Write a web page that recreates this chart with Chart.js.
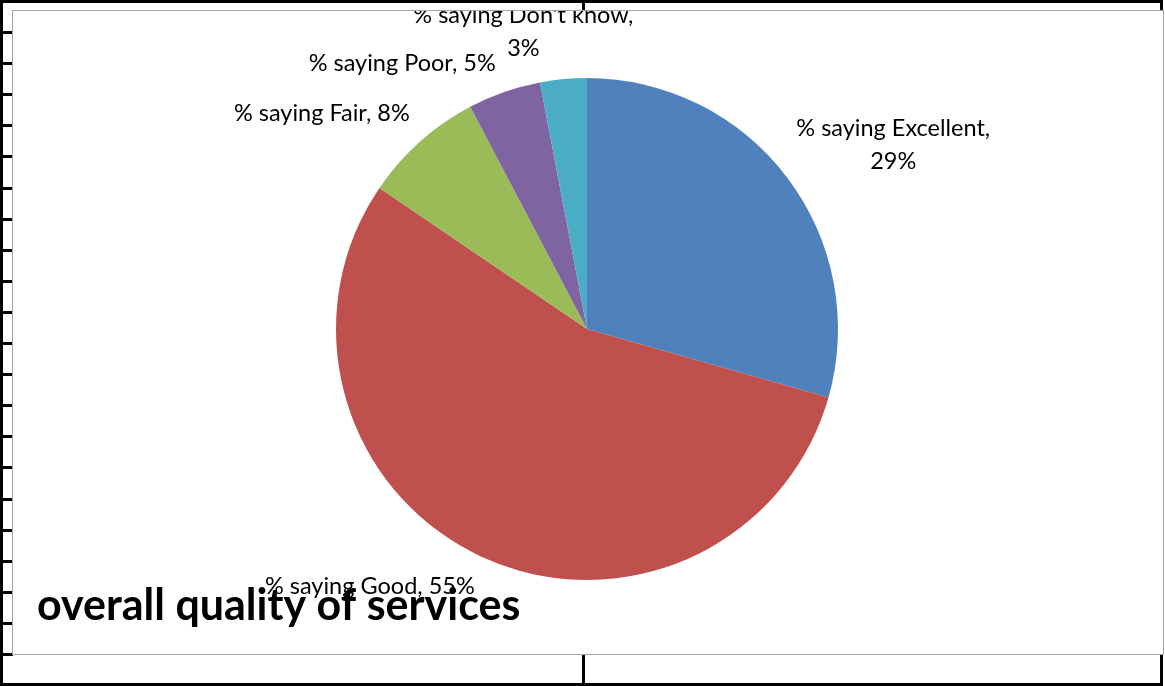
<!DOCTYPE html>
<html>
<head>
<meta charset="utf-8">
<title>overall quality of services</title>
<script src="https://cdn.jsdelivr.net/npm/chart.js@4"></script>
<style>
  html, body { margin: 0; padding: 0; background: #fff; }
  body { width: 1165px; height: 686px; position: relative; overflow: hidden; }
  .ln { position: absolute; background: #000; }
  #box { position: absolute; left: 12px; top: 10px; width: 1150px; height: 643px;
         border: 1px solid #a6a6a6; background: #fff; }
  #box canvas { display: block; }
</style>
</head>
<body>
<!-- sheet grid behind the chart object -->
<div class="ln" style="left:0;top:0;width:1163px;height:3px"></div>
<div class="ln" style="left:0;top:0;width:3px;height:686px"></div>
<div class="ln" style="left:1160px;top:0;width:3px;height:686px"></div>
<div class="ln" style="left:0;top:683px;width:1163px;height:3px"></div>
<div class="ln" style="left:0;top:653px;width:1163px;height:2px"></div>
<div class="ln" style="left:582px;top:0;width:3px;height:12px"></div>
<div class="ln" style="left:582px;top:653px;width:3px;height:33px"></div>
<div id="ticks"></div>

<div id="box"><canvas id="pie" width="1150" height="643"></canvas></div>

<script>
(function () {
  var CATEGORIES = ['% saying Excellent', '% saying Good', '% saying Fair', '% saying Poor', "% saying Don't know"];
  var VALUES = [29.4, 55.1, 7.8, 4.7, 3.0];
  var COLORS = ['#4f81bd', '#c0504d', '#9bbb59', '#8064a2', '#4bacc6'];
  var TITLE = 'overall quality of services';

  // label block centre relative to the slice's outer mid point (excel "best fit" look)
  var LABEL_DX = [106, -111, -98, -102, -40];
  var LABEL_DY = [-33, 30, -28, -29, -47];
  var WRAP = [true, false, false, false, true];

  // row lines of the sheet, only their stubs show left of the chart
  var ticks = document.getElementById('ticks');
  for (var i = 0; i <= 20; i++) {
    var t = document.createElement('div');
    t.className = 'ln';
    t.style.cssText = 'left:0;width:13px;height:3px;top:' + Math.round(31 + i * 31.1) + 'px';
    ticks.appendChild(t);
  }

  function labelLines(i) {
    var pct = Math.round(VALUES[i]) + '%';
    return WRAP[i] ? [CATEGORIES[i] + ',', pct] : [CATEGORIES[i] + ', ' + pct];
  }

  var labelsPlugin = {
    id: 'sliceLabels',
    afterDatasetsDraw: function (chart) {
      var ctx = chart.ctx;
      var arcs = chart.getDatasetMeta(0).data;
      ctx.save();
      ctx.fillStyle = '#000';
      ctx.font = '23.5px Lato, "DejaVu Sans", sans-serif';
      ctx.textAlign = 'center';
      ctx.textBaseline = 'middle';
      arcs.forEach(function (a, i) {
        var mid = (a.startAngle + a.endAngle) / 2;
        var cx = a.x + Math.cos(mid) * a.outerRadius + LABEL_DX[i];
        var cy = a.y + Math.sin(mid) * a.outerRadius + LABEL_DY[i];
        var lines = labelLines(i);
        var lh = 33;
        lines.forEach(function (s, j) {
          ctx.fillText(s, cx, cy + (j - (lines.length - 1) / 2) * lh);
        });
      });
      // chart title sits bottom-left, drawn over the labels
      ctx.font = 'bold 43px Lato, "DejaVu Sans", sans-serif';
      ctx.textAlign = 'left';
      ctx.textBaseline = 'alphabetic';
      ctx.fillText(TITLE, 24, 609);
      ctx.restore();
    }
  };

  new Chart(document.getElementById('pie').getContext('2d'), {
    type: 'pie',
    data: {
      labels: CATEGORIES,
      datasets: [{ data: VALUES, backgroundColor: COLORS, borderWidth: 0 }]
    },
    options: {
      responsive: false, animation: false,
      layout: { padding: { top: 67, bottom: 74, left: 300, right: 302 } },
      plugins: { legend: { display: false }, tooltip: { enabled: false } }
    },
    plugins: [labelsPlugin]
  });
})();
</script>
</body>
</html>
